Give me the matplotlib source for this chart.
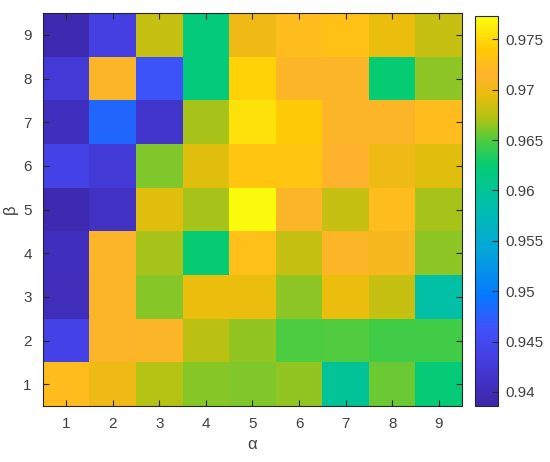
import numpy as np
import matplotlib
matplotlib.use("Agg")
import matplotlib.pyplot as plt
from matplotlib.colors import LinearSegmentedColormap

alpha_labels = [1, 2, 3, 4, 5, 6, 7, 8, 9]
beta_labels = [1, 2, 3, 4, 5, 6, 7, 8, 9]

# rows = beta 1..9, columns = alpha 1..9
beta1 = [0.9725, 0.9700, 0.9672, 0.9662, 0.9660, 0.9665, 0.9598, 0.9656, 0.9622]
beta2 = [0.9440, 0.9712, 0.9710, 0.9675, 0.9665, 0.9648, 0.9650, 0.9646, 0.9646]
beta3 = [0.9402, 0.9712, 0.9662, 0.9695, 0.9695, 0.9664, 0.9695, 0.9680, 0.9590]
beta4 = [0.9405, 0.9712, 0.9670, 0.9625, 0.9728, 0.9680, 0.9710, 0.9705, 0.9664]
beta5 = [0.9395, 0.9410, 0.9690, 0.9670, 0.9770, 0.9712, 0.9680, 0.9725, 0.9670]
beta6 = [0.9440, 0.9425, 0.9660, 0.9690, 0.9735, 0.9735, 0.9715, 0.9700, 0.9690]
beta7 = [0.9405, 0.9480, 0.9415, 0.9670, 0.9755, 0.9740, 0.9710, 0.9710, 0.9725]
beta8 = [0.9425, 0.9710, 0.9465, 0.9620, 0.9745, 0.9710, 0.9712, 0.9625, 0.9664]
beta9 = [0.9395, 0.9435, 0.9680, 0.9620, 0.9700, 0.9725, 0.9730, 0.9695, 0.9680]

cbar_ticks = [0.94, 0.945, 0.95, 0.955, 0.96, 0.965, 0.97, 0.975]
cbar_ticklabels = ["0.94", "0.945", "0.95", "0.955", "0.96", "0.965", "0.97", "0.975"]

data = np.array([beta1, beta2, beta3, beta4, beta5, beta6, beta7, beta8, beta9])

anchors = [
    (0.00, (0.24, 0.15, 0.66)),
    (0.12, (0.27, 0.24, 0.88)),
    (0.20, (0.25, 0.32, 0.98)),
    (0.28, (0.02, 0.47, 1.00)),
    (0.40, (0.02, 0.65, 0.85)),
    (0.50, (0.00, 0.74, 0.70)),
    (0.62, (0.02, 0.80, 0.45)),
    (0.68, (0.30, 0.80, 0.25)),
    (0.74, (0.70, 0.76, 0.08)),
    (0.80, (0.92, 0.74, 0.05)),
    (0.85, (1.00, 0.70, 0.18)),
    (0.92, (1.00, 0.80, 0.02)),
    (1.00, (0.98, 0.99, 0.05)),
]
cmap = LinearSegmentedColormap.from_list("parula_like", anchors, N=256)

plt.rcParams['font.family'] = ['Liberation Sans', 'DejaVu Sans']
fig = plt.figure(figsize=(5.5, 4.62), dpi=100)
ax = fig.add_axes([0.078, 0.1212, 0.762, 0.8506])
cax = fig.add_axes([0.8636, 0.1212, 0.0418, 0.844])

vmin, vmax = 0.9386, 0.9773
x_edges = np.arange(len(alpha_labels) + 1) + 0.5
y_edges = np.arange(len(beta_labels) + 1) + 0.5
mesh = ax.pcolormesh(x_edges, y_edges, data, cmap=cmap, vmin=vmin, vmax=vmax)
ax.set_xlim(0.5, 9.5)
ax.set_ylim(0.5, 9.5)
ax.set_xticks(alpha_labels)
ax.set_yticks(beta_labels)
ax.set_xticklabels([str(a) for a in alpha_labels])
ax.set_yticklabels([str(b) for b in beta_labels])
ax.tick_params(direction='in', top=True, right=True, length=4, width=0.8,
               colors='#262626', labelsize=11, labelcolor='#404040', pad=8)
for s in ax.spines.values():
    s.set_color('#262626')
    s.set_linewidth(0.8)
ax.set_xlabel('α', fontsize=12, color='#404040', labelpad=4)
ax.set_ylabel('β', fontsize=12, color='#404040', labelpad=4)

cb = fig.colorbar(mesh, cax=cax)
cb.set_ticks(cbar_ticks)
cb.set_ticklabels(cbar_ticklabels)
cax.tick_params(direction='in', length=4, width=0.8, colors='#262626',
                labelsize=11, labelcolor='#404040', pad=5)
cb.outline.set_edgecolor('#262626')
cb.outline.set_linewidth(0.8)

fig.savefig('out.png', dpi=100)
